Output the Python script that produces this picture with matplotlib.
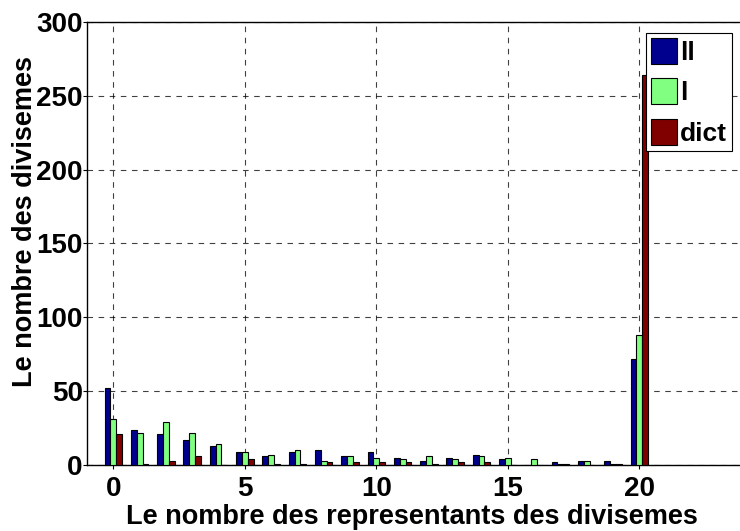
import matplotlib
matplotlib.use("Agg")

import matplotlib.pyplot as plt
import numpy as np

# counts per number of representatives (0..20)
reps = np.arange(0, 21)
count_ll = [52, 24, 21, 17, 13, 9, 6, 9, 10, 6, 9, 5, 3, 5, 7, 4, 0, 2, 3, 3, 72]
count_l = [31, 22, 29, 22, 14, 9, 7, 10, 3, 6, 5, 4, 6, 4, 6, 5, 4, 1, 3, 1, 88]
count_dict = [21, 1, 3, 6, 0, 4, 1, 1, 2, 2, 2, 2, 1, 2, 2, 0, 0, 1, 0, 1, 264]

series_names = ["ll", "l", "dict"]
colors = ["#00008F", "#80FF80", "#800000"]

plt.rcParams["font.family"] = ["Liberation Sans", "DejaVu Sans"]
plt.rcParams["font.weight"] = "bold"

fig = plt.figure(figsize=(7.4, 5.31), dpi=100)
# axes runs slightly past the right edge of the canvas
ax = fig.add_axes([0.1176, 0.1243, 0.8885, 0.8343])

width = 0.222
for k, (vals, name, col) in enumerate(zip([count_ll, count_l, count_dict], series_names, colors)):
    ax.bar(reps + (k - 1) * width, vals, width=width, color=col,
           edgecolor="black", linewidth=0.8, label=name, zorder=3)

ax.set_xlim(-1, 24)
ax.set_ylim(0, 300)
ax.set_xticks([0, 5, 10, 15, 20])
ax.set_yticks(np.arange(0, 301, 50))
ax.grid(True, color="black", linestyle=(0, (5, 5)), linewidth=0.8, alpha=0.75, zorder=0)
ax.tick_params(direction="out", length=3, labelsize=20)
ax.tick_params(axis="x", pad=5)
ax.tick_params(axis="y", pad=0)
for lbl in ax.get_xticklabels() + ax.get_yticklabels():
    lbl.set_fontweight("bold")
for s in ax.spines.values():
    s.set_linewidth(1.0)

ax.set_xlabel("Le nombre des representants des divisemes", fontsize=19.5,
              fontweight="bold")
ax.xaxis.set_label_coords(0.4945, -0.087)
ax.set_ylabel("Le nombre des divisemes", fontsize=19.5, fontweight="bold")
ax.yaxis.set_label_coords(-0.075, 0.549)

leg = ax.legend(loc="upper left", bbox_to_anchor=(646 / 740, 1 - 33 / 531),
                bbox_transform=fig.transFigure, frameon=True, fancybox=False,
                framealpha=1.0, edgecolor="black", handlelength=0.98,
                handleheight=1.14, handletextpad=0.1, labelspacing=0.5,
                borderpad=0.2, borderaxespad=0.0,
                prop={"weight": "bold", "size": 19})
leg.get_frame().set_linewidth(0.8)

plt.savefig("out.png", dpi=100)
plt.close()
